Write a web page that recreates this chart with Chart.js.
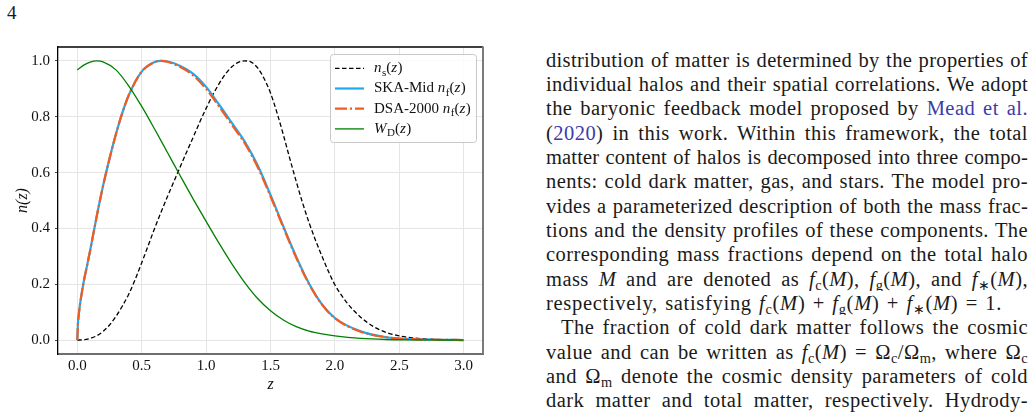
<!DOCTYPE html>
<html>
<head>
<meta charset="utf-8">
<script src="https://cdn.jsdelivr.net/npm/chart.js@4.4.1/dist/chart.umd.min.js"></script>
<style>
  html, body { margin:0; padding:0; background:#ffffff; }
  body { width:1036px; height:417px; position:relative; overflow:hidden; font-family:"Liberation Serif", serif; color:#1a1a1a; }
  #page { position:absolute; left:7px; top:2px; font-size:19px; }
  #wrap { position:absolute; left:0; top:0; width:500px; height:417px; }
  #txt { position:absolute; left:546px; top:47.5px; width:482px; font-size:20.5px; }
  .l { height:24.35px; line-height:24.35px; text-align:left; overflow:hidden; white-space:nowrap; }
  .l > span { white-space:nowrap; }
  .l.ind { text-indent:15px; }
  .c { color:#3c3ca8; }
  sub { font-size:0.7em; vertical-align:-0.28em; line-height:0; }
</style>
</head>
<body>
<div id="page">4</div>
<div id="wrap"><canvas id="chart" width="500" height="417"></canvas></div>
<div id="txt">
<div class="l"><span>distribution of matter is determined by the properties of</span></div>
<div class="l"><span>individual halos and their spatial correlations. We adopt</span></div>
<div class="l"><span>the baryonic feedback model proposed by <span class="c">Mead et al.</span></span></div>
<div class="l"><span>(<span class="c">2020</span>) in this work. Within this framework, the total</span></div>
<div class="l"><span>matter content of halos is decomposed into three compo-</span></div>
<div class="l"><span>nents: cold dark matter, gas, and stars. The model pro-</span></div>
<div class="l"><span>vides a parameterized description of both the mass frac-</span></div>
<div class="l"><span>tions and the density profiles of these components. The</span></div>
<div class="l"><span>corresponding mass fractions depend on the total halo</span></div>
<div class="l"><span>mass <i>M</i> and are denoted as <i>f</i><sub>c</sub>(<i>M</i>), <i>f</i><sub>g</sub>(<i>M</i>), and <i>f</i><sub>∗</sub>(<i>M</i>),</span></div>
<div class="l last"><span>respectively, satisfying <i>f</i><sub>c</sub>(<i>M</i>) + <i>f</i><sub>g</sub>(<i>M</i>) + <i>f</i><sub>∗</sub>(<i>M</i>) = 1.</span></div>
<div class="l ind"><span>The fraction of cold dark matter follows the cosmic</span></div>
<div class="l"><span>value and can be written as <i>f</i><sub>c</sub>(<i>M</i>) = Ω<sub>c</sub>/Ω<sub>m</sub>, where Ω<sub>c</sub></span></div>
<div class="l"><span>and Ω<sub>m</sub> denote the cosmic density parameters of cold</span></div>
<div class="l"><span>dark matter and total matter, respectively. Hydrody-</span></div>
</div>
<script>
// ---- data ----
const xTicks = [0.0, 0.5, 1.0, 1.5, 2.0, 2.5, 3.0];
const yTicks = [0.0, 0.2, 0.4, 0.6, 0.8, 1.0];

const zNs = [0,0.05,0.1,0.15,0.2,0.25,0.3,0.35,0.4,0.45,0.5,0.55,0.6,0.65,0.7,0.75,0.8,0.85,0.9,0.95,1.0,1.05,1.1,1.15,1.2,1.25,1.3,1.35,1.4,1.45,1.5,1.55,1.6,1.65,1.7,1.75,1.8,1.85,1.9,1.95,2.0,2.1,2.2,2.3,2.4,2.5,2.6,2.7,2.8,2.9,3.0];
const nS  = [0,0.001,0.006,0.015,0.031,0.054,0.085,0.122,0.165,0.218,0.277,0.338,0.400,0.458,0.514,0.568,0.622,0.675,0.727,0.780,0.830,0.877,0.918,0.953,0.979,0.995,1.0,0.996,0.975,0.937,0.885,0.815,0.735,0.650,0.568,0.490,0.420,0.357,0.300,0.246,0.198,0.130,0.082,0.048,0.027,0.015,0.008,0.004,0.002,0.001,0.0];

const zNf   = [0,0.005,0.01,0.02,0.035,0.05,0.075,0.1,0.15,0.2,0.25,0.3,0.35,0.4,0.5,0.6,0.65,0.7,0.8,0.9,1.0,1.1,1.2,1.3,1.4,1.5,1.6,1.7,1.8,1.9,2.0,2.2,2.4,2.6,2.8,3.0];
const nfSka = [0,0.06,0.085,0.125,0.17,0.21,0.265,0.322,0.442,0.553,0.650,0.738,0.815,0.878,0.962,0.996,1.0,0.998,0.982,0.954,0.907,0.844,0.778,0.711,0.626,0.520,0.407,0.298,0.202,0.128,0.079,0.031,0.010,0.003,0.001,0];
const nfDsa = [0,0.06,0.085,0.125,0.17,0.21,0.265,0.322,0.442,0.553,0.650,0.738,0.815,0.878,0.962,0.996,1.0,0.997,0.978,0.948,0.900,0.837,0.771,0.705,0.620,0.515,0.403,0.295,0.200,0.127,0.078,0.030,0.010,0.003,0.001,0];

const zW = [0,0.05,0.1,0.15,0.2,0.3,0.4,0.5,0.6,0.7,0.8,0.9,1.0,1.1,1.2,1.3,1.4,1.5,1.6,1.7,1.8,1.9,2.0,2.2,2.4,2.6,2.8,3.0];
const wD = [0.968,0.985,0.996,1.0,0.997,0.968,0.910,0.837,0.756,0.672,0.588,0.505,0.425,0.347,0.273,0.206,0.149,0.105,0.072,0.048,0.032,0.022,0.015,0.006,0.002,0.0007,0.0002,0];

const seriesNames = ['n_s(z)', 'SKA-Mid n_f(z)', 'DSA-2000 n_f(z)', 'W_D(z)'];
// rich legend text: [text, style] with style '' upright, 'i' italic, 's' subscript
const legendParts = [
  [['n','i'],['s','s'],['(',''],['z','i'],[')','']],
  [['SKA-Mid ',''],['n','i'],['f','s'],['(',''],['z','i'],[')','']],
  [['DSA-2000 ',''],['n','i'],['f','s'],['(',''],['z','i'],[')','']],
  [['W','i'],['D','s'],['(',''],['z','i'],[')','']]
];

const pts = (xs, ys) => xs.map((x, i) => ({x: x, y: ys[i]}));
const FONT = '"Liberation Serif", "Times New Roman", serif';

function drawRich(ctx, parts, x, y, size) {
  ctx.textBaseline = 'middle';
  ctx.textAlign = 'left';
  ctx.fillStyle = '#111';
  for (const [t, st] of parts) {
    let fs = size, dy = 0, style = '';
    if (st === 'i') style = 'italic ';
    if (st === 's') { fs = Math.round(size * 0.7); dy = size * 0.3; }
    ctx.font = style + fs + 'px ' + FONT;
    ctx.fillText(t, x, y + dy);
    x += ctx.measureText(t).width + (st === 'i' ? 0.5 : 0);
  }
}

const framePlugin = {
  id: 'frame',
  afterDatasetsDraw(chart) {
    const {ctx, chartArea: a} = chart;
    ctx.save();
    ctx.setLineDash([]);
    ctx.lineWidth = 1.3;
    ctx.strokeStyle = '#000';
    ctx.beginPath(); ctx.moveTo(a.left, a.top); ctx.lineTo(a.right, a.top); ctx.stroke();
    ctx.lineWidth = 2;
    ctx.strokeStyle = '#7a7a7a';
    ctx.beginPath(); ctx.moveTo(a.right, a.top - 0.6); ctx.lineTo(a.right, a.bottom); ctx.stroke();
    ctx.restore();
  }
};

const legendPlugin = {
  id: 'boxLegend',
  afterDraw(chart) {
    const {ctx, chartArea: a} = chart;
    const w = 146, h = 88;
    const x0 = a.right - 153, y0 = a.top + 7;
    ctx.save();
    ctx.beginPath();
    ctx.roundRect(x0 + 0.5, y0 + 0.5, w, h, 3);
    ctx.fillStyle = 'rgba(255,255,255,0.85)';
    ctx.fill();
    ctx.lineWidth = 1;
    ctx.strokeStyle = '#c8c8c8';
    ctx.stroke();
    chart.data.datasets.forEach((ds, i) => {
      const y = y0 + 14.3 + i * 20.2;
      ctx.beginPath();
      ctx.strokeStyle = ds.borderColor;
      ctx.lineWidth = ds.borderWidth;
      ctx.setLineDash(ds.borderDash || []);
      ctx.moveTo(x0 + 5, y); ctx.lineTo(x0 + 34, y);
      ctx.stroke();
      ctx.setLineDash([]);
      drawRich(ctx, legendParts[i], x0 + 44, y, 15);
    });
    ctx.restore();
  }
};

new Chart(document.getElementById('chart'), {
  type: 'line',
  data: {
    datasets: [
      { label: seriesNames[0], data: pts(zNs, nS), borderColor: '#000000', borderWidth: 1.3, borderDash: [4.5, 2.5], order: 4 },
      { label: seriesNames[1], data: pts(zNf, nfSka), borderColor: '#1eaaf1', borderWidth: 2.2, order: 3 },
      { label: seriesNames[2], data: pts(zNf, nfDsa), borderColor: '#f55a1e', borderWidth: 2.2, borderDash: [12, 3, 2, 3], order: 2 },
      { label: seriesNames[3], data: pts(zW, wD), borderColor: '#008000', borderWidth: 1.3, order: 1 }
    ]
  },
  options: {
    responsive: false,
    animation: false,
    devicePixelRatio: 1,
    elements: { point: { radius: 0 }, line: { cubicInterpolationMode: 'monotone', fill: false } },
    layout: { padding: { left: 0, right: 17, top: 47, bottom: 0 } },
    plugins: { legend: { display: false }, tooltip: { enabled: false } },
    scales: {
      x: {
        type: 'linear', min: -0.15, max: 3.15,
        afterBuildTicks: s => { s.ticks = xTicks.map(v => ({value: v})); },
        afterFit: s => { s.height = 63; },
        ticks: { callback: v => Number(v).toFixed(1), color: '#111', font: { family: FONT, size: 15 }, padding: 3, maxRotation: 0 },
        grid: { color: '#e5e5e5', lineWidth: 1, drawTicks: false },
        border: { color: '#6e6e6e', width: 2 },
        title: { display: true, text: 'z', color: '#111', font: { family: FONT, size: 16, style: 'italic' }, padding: { top: 0, bottom: 23 } }
      },
      y: {
        type: 'linear', min: -0.05, max: 1.05,
        afterBuildTicks: s => { s.ticks = yTicks.map(v => ({value: v})); },
        afterFit: s => { s.width = 58; },
        ticks: { callback: v => Number(v).toFixed(1), color: '#111', font: { family: FONT, size: 15 }, padding: 5 },
        grid: { color: '#e5e5e5', lineWidth: 1, tickLength: 3, tickColor: '#444' },
        border: { color: '#000000', width: 1.3 },
        title: { display: true, text: 'n(z)', color: '#111', font: { family: FONT, size: 16, style: 'italic' }, padding: { top: 13, bottom: 0 } }
      }
    }
  },
  plugins: [framePlugin, legendPlugin]
});

// fit each text line into the column: justified lines fill 482px; the paragraph's last line is set to its natural width (~456px)
(function fitLines() {
  document.querySelectorAll('#txt .l').forEach(div => {
    const span = div.firstElementChild;
    const isLast = div.classList.contains('last');
    const target = isLast ? 456 : 482;
    const chars = span.textContent.length;
    const indent = div.classList.contains('ind') ? 15 : 0;
    let ls = 0.45;
    span.style.letterSpacing = ls + 'px';
    let w = span.getBoundingClientRect().width + indent;
    if (isLast) {
      ls += ((target - w) * 0.5) / chars;
      span.style.letterSpacing = ls + 'px';
    } else if (w > target - 8) {
      ls -= (w - (target - 8)) / chars;
      span.style.letterSpacing = ls + 'px';
    }
    const w2 = span.getBoundingClientRect().width + indent;
    const spaces = (span.textContent.match(/ /g) || []).length;
    if (spaces > 0) span.style.wordSpacing = ((target - w2) / spaces) + 'px';
  });
})();
</script>
</body>
</html>
